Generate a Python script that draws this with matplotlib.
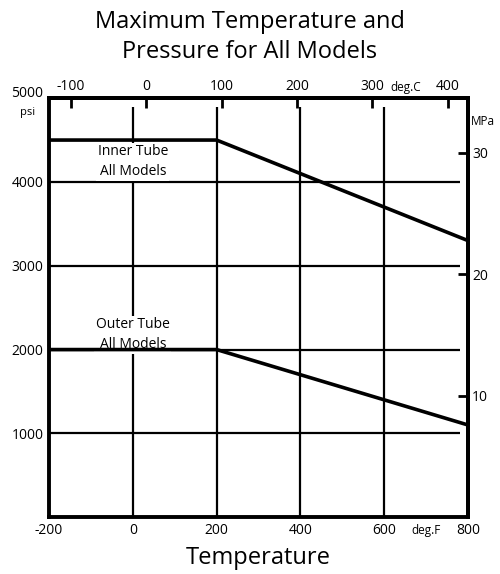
import matplotlib.pyplot as plt
import numpy as np

# temperature in deg F, pressure in psi
temp_f = [-200, 200, 800]
inner_psi = [4500, 4500, 3300]
outer_psi = [2000, 2000, 1100]

f_ticks = [-200, 0, 200, 400, 600, 800]
psi_ticks = [1000, 2000, 3000, 4000]
c_ticks = [-100, 0, 100, 200, 300, 400]
mpa_ticks = [10, 20, 30]

PSI_PER_MPA = 145.0377

plt.rcParams["font.family"] = ["Open Sans", "DejaVu Sans"]


def f2c(f):
    return (np.asarray(f) - 32) * 5 / 9


def c2f(c):
    return np.asarray(c) * 9 / 5 + 32


def psi2mpa(p):
    return np.asarray(p) / PSI_PER_MPA


def mpa2psi(m):
    return np.asarray(m) * PSI_PER_MPA


fig = plt.figure(figsize=(5, 5.74), dpi=100)
ax = fig.add_axes([0.098, 0.099, 0.838, 0.730])
ax.set_xlim(-200, 800)
ax.set_ylim(0, 5000)

# grid
ax.hlines(psi_ticks, -200, 780, color="black", lw=1.6, zorder=1)
ax.vlines(f_ticks[1:-1], 0, 4890, color="black", lw=1.6, zorder=1)

# limit curves
ax.plot(temp_f, inner_psi, color="black", lw=2.6, zorder=3)
ax.plot(temp_f, outer_psi, color="black", lw=2.6, zorder=3)

box = dict(facecolor="white", edgecolor="none", pad=1)
ax.text(0, 4240, "Inner Tube\nAll Models", ha="center", va="center", fontsize=10,
        linespacing=1.45, bbox=box, zorder=2)
ax.text(0, 2175, "Outer Tube\nAll Models", ha="center", va="center", fontsize=10,
        linespacing=1.45, bbox=box, zorder=2)

for s in ax.spines.values():
    s.set_linewidth(2.8)

ax.set_xticks(f_ticks)
ax.set_yticks(psi_ticks)
ax.tick_params(length=0, labelsize=10, pad=4)
ax.set_xticklabels([str(t) for t in f_ticks])
ax.set_yticklabels([str(t) for t in psi_ticks])

secx = ax.secondary_xaxis("top", functions=(f2c, c2f))
secx.set_xticks(c_ticks)
secx.set_xticklabels([str(t) for t in c_ticks])
secx.tick_params(direction="in", length=7, width=2, labelsize=10, pad=3)
secx.spines["top"].set_linewidth(2.8)

secy = ax.secondary_yaxis("right", functions=(psi2mpa, mpa2psi))
secy.set_yticks(mpa_ticks)
secy.tick_params(direction="in", length=7, width=2, labelsize=10, pad=3)
secy.spines["right"].set_linewidth(2.8)

# unit labels and the top psi label
ax.text(-252, 5060, "5000", ha="center", va="center", fontsize=10)
ax.text(-252, 4833, "psi", ha="center", va="center", fontsize=8)
ax.text(807, 4726, "MPa", ha="left", va="center", fontsize=8.5)
ax.text(652, 5131, "deg.C", ha="center", va="center", fontsize=8.5)
ax.text(700, -155, "deg.F", ha="center", va="center", fontsize=8.5)

ax.set_xlabel("Temperature", fontsize=17, labelpad=6)
fig.suptitle("Maximum Temperature and\nPressure for All Models", fontsize=17, y=0.983,
             linespacing=1.35)

fig.savefig("out.png", dpi=100)
